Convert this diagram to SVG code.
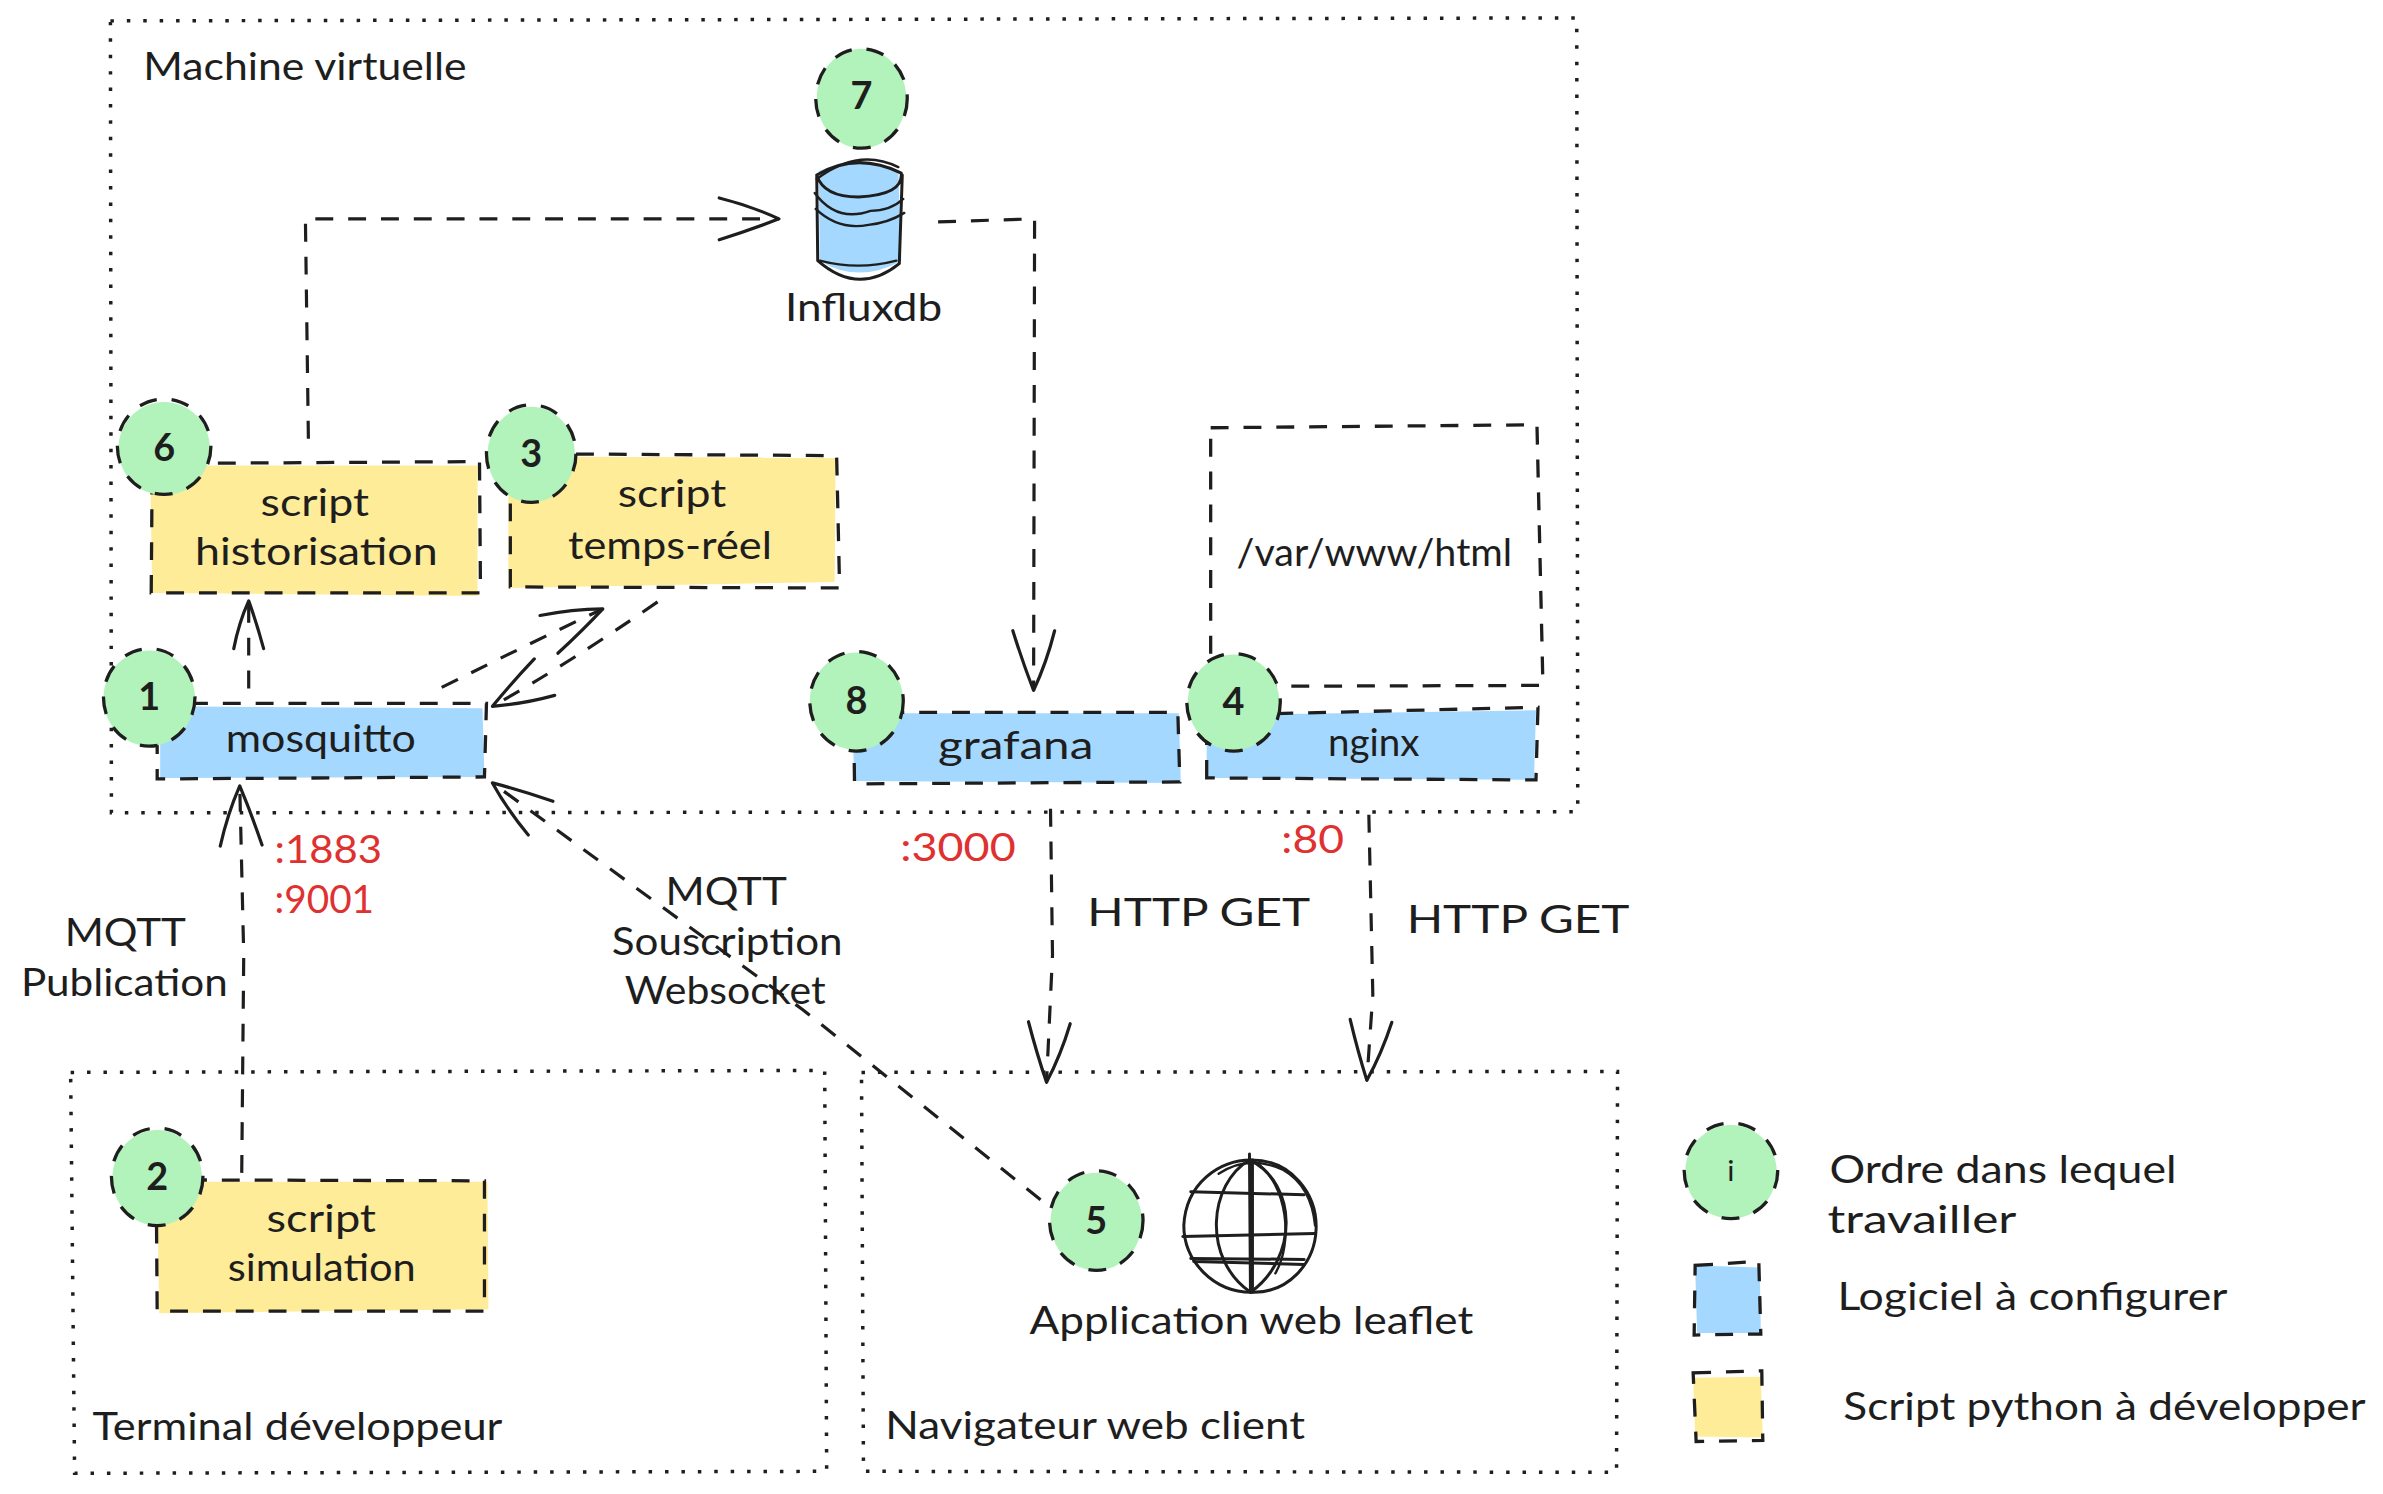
<svg xmlns="http://www.w3.org/2000/svg" width="2383" height="1494" viewBox="0 0 2383 1494">
<defs>
<marker id="head" markerUnits="userSpaceOnUse" markerWidth="80" markerHeight="60" refX="70" refY="30" orient="auto" overflow="visible">
<path d="M10 9 Q42 17 70 30 Q42 41 10 51" fill="none" stroke="#1e1e1e" stroke-width="3.2" stroke-linecap="round" stroke-linejoin="round"/>
</marker>
<marker id="head-narrow" markerUnits="userSpaceOnUse" markerWidth="80" markerHeight="60" refX="70" refY="30" orient="auto" overflow="visible">
<path d="M22 15 Q48 20 70 30 Q48 38 22 45" fill="none" stroke="#1e1e1e" stroke-width="3.2" stroke-linecap="round" stroke-linejoin="round"/>
</marker>
</defs>
<style>
.t{font-family:"Lato","Liberation Sans",sans-serif;font-size:38px;fill:#1e1e1e}
.n{font-family:"Lato","Liberation Sans",sans-serif;font-size:38px;font-weight:700;fill:#1e1e1e;text-anchor:middle}
.r{fill:#e03131}
.frame{fill:none;stroke:#1e1e1e;stroke-width:3.5;stroke-dasharray:3.5 13}
.dash{fill:none;stroke:#1e1e1e;stroke-width:3.3;stroke-dasharray:18 15}
.conn{fill:none;stroke:#1e1e1e;stroke-width:3.2;stroke-dasharray:18 15;marker-end:url(#head)}
.narrow{marker-end:url(#head-narrow)}
.line{fill:none;stroke:#1e1e1e;stroke-width:3;stroke-linecap:round;stroke-linejoin:round}
.thin{fill:none;stroke:#1e1e1e;stroke-width:2.4;stroke-linecap:round;stroke-linejoin:round}
.g{fill:#b2f2bb}.b{fill:#a5d8ff}.y{fill:#ffec99}
</style>
<rect width="2383" height="1494" fill="#ffffff"/>
<g id="diagram" transform="scale(0.9948)">

<g id="frame-machine"><path class="frame" d="M111 21 L1585 18 L1586 816 L112 817 Z"/><text class="t" x="144" y="80" textLength="325" lengthAdjust="spacingAndGlyphs">Machine virtuelle</text></g>
<g id="frame-terminal"><path class="frame" d="M71 1078 L829 1076 L831 1479 L75 1481 Z"/><text class="t" x="93" y="1448" textLength="412" lengthAdjust="spacingAndGlyphs">Terminal développeur</text></g>
<g id="frame-navigateur"><path class="frame" d="M866 1078 L1626 1077 L1625 1480 L868 1479 Z"/><text class="t" x="890" y="1447" textLength="422" lengthAdjust="spacingAndGlyphs">Navigateur web client</text></g>

<g id="connectors">
<path class="conn narrow" d="M250 692 L250 604"/>
<path class="conn" d="M444 691 Q530 648 606 612"/>
<path class="conn" d="M661 605 Q570 668 495 710"/>
<path class="conn" d="M310 441 L307 220 L783 220"/>
<path class="conn" d="M943 223 L1040 220 L1039 694"/>
<path class="conn" d="M243 1179 L245 960 L241 790"/>
<path class="conn" d="M1046 1206 L807 1015 L495 787"/>
<path class="conn" d="M1056 813 L1058 960 L1052 1088"/>
<path class="conn" d="M1376 819 L1380 1000 L1374 1086"/>
</g>

<g id="node-historisation"><path class="y" d="M151 468 L480 468 L480 599 L153 596 Z"/><path class="dash" d="M153 466 L482 464 L483 596 L152 596 Z"/>
<text class="t" x="262" y="519" textLength="109" lengthAdjust="spacingAndGlyphs">script</text><text class="t" x="196" y="568" textLength="244" lengthAdjust="spacingAndGlyphs">historisation</text></g>
<g id="node-tempsreel"><path class="y" d="M511 459 L840 460 L839 585 L511 591 Z"/><path class="dash" d="M513 456 L841 458 L844 591 L513 590 Z"/>
<text class="t" x="621" y="510" textLength="109" lengthAdjust="spacingAndGlyphs">script</text><text class="t" x="571" y="562" textLength="205" lengthAdjust="spacingAndGlyphs">temps-réel</text></g>
<g id="node-mosquitto"><path class="b" d="M161 710 L485 712 L487 781 L161 782 Z"/><path class="dash" d="M158 707 L489 707 L487 781 L158 783 Z"/>
<text class="t" x="227" y="756" textLength="191" lengthAdjust="spacingAndGlyphs">mosquitto</text></g>
<g id="node-influxdb">
<path class="b" d="M823 172 Q863 156 903 172 L906 262 Q863 286 824 262 Z"/>
<path class="line" d="M821 176 Q861 152 906 174 Q908 196 863 198 Q828 198 821 176 L822 262 Q863 298 904 265 L907 176"/>
<path class="thin" d="M819 194 Q841 224 875 212 Q895 212 908 200 M820 210 Q843 232 873 226 Q893 224 909 214 M821 180 Q863 148 903 168 M824 262 Q863 272 901 262"/>
<text class="t" x="789" y="323" textLength="158" lengthAdjust="spacingAndGlyphs">Influxdb</text></g>
<g id="node-grafana"><path class="b" d="M856 717 L1185 717 L1187 787 L859 785 Z"/><path class="dash" d="M858 716 L1184 716 L1186 786 L859 788 Z"/>
<text class="t" x="943" y="763" textLength="156" lengthAdjust="spacingAndGlyphs">grafana</text></g>
<g id="node-nginx"><path class="b" d="M1213 719 L1544 714 L1542 784 L1213 782 Z"/><path class="dash" d="M1213 782 L1213 719 L1546 711 L1544 784 Z"/>
<text class="t" x="1335" y="760" textLength="92" lengthAdjust="spacingAndGlyphs">nginx</text></g>
<g id="node-www"><path class="dash" d="M1217 430 L1545 427 L1551 689 L1217 690 Z"/>
<text class="t" x="1243" y="569" textLength="277" lengthAdjust="spacingAndGlyphs">/var/www/html</text></g>
<g id="node-simulation"><path class="y" d="M158 1188 L490 1188 L491 1316 L160 1320 Z"/><path class="dash" d="M157 1186 L487 1187 L487 1318 L158 1318 Z"/>
<text class="t" x="268" y="1238" textLength="110" lengthAdjust="spacingAndGlyphs">script</text><text class="t" x="229" y="1288" textLength="189" lengthAdjust="spacingAndGlyphs">simulation</text></g>
<g id="node-webapp">
<path class="line" d="M1190 1232 C1192 1190 1225 1166 1258 1166 C1298 1166 1324 1200 1323 1235 C1322 1270 1295 1300 1258 1299 C1220 1299 1190 1268 1190 1232 Z"/>
<path class="thin" d="M1225 1180 Q1255 1160 1290 1176 Q1318 1192 1322 1232"/>
<path class="line" d="M1256 1166 C1215 1190 1208 1265 1257 1299 C1305 1265 1305 1190 1256 1166"/>
<path class="thin" d="M1262 1168 C1295 1190 1300 1250 1282 1280"/>
<path class="line" d="M1256 1160 L1257 1299 M1259 1166 L1259 1299"/>
<path class="line" d="M1197 1198 L1311 1201 M1189 1243 L1322 1240 M1200 1268 L1311 1271 M1197 1265 L1311 1266"/>
<text class="t" x="1035" y="1341" textLength="446" lengthAdjust="spacingAndGlyphs">Application web leaflet</text></g>

<g id="badge-6"><ellipse class="g" cx="165" cy="451" rx="46" ry="47"/><ellipse class="dash" cx="165" cy="449" rx="47" ry="48"/><text class="n" x="165" y="463">6</text></g>
<g id="badge-3"><ellipse class="g" cx="534" cy="457" rx="44" ry="48"/><ellipse class="dash" cx="534" cy="456" rx="45" ry="49"/><text class="n" x="534" y="469">3</text></g>
<g id="badge-1"><ellipse class="g" cx="150" cy="702" rx="46" ry="48"/><ellipse class="dash" cx="150" cy="701" rx="46" ry="49"/><text class="n" x="150" y="714">1</text></g>
<g id="badge-7"><ellipse class="g" cx="866" cy="99" rx="45" ry="50"/><ellipse class="dash" cx="866" cy="99" rx="46" ry="50"/><text class="n" x="866" y="110">7</text></g>
<g id="badge-8"><ellipse class="g" cx="861" cy="705" rx="47" ry="49"/><ellipse class="dash" cx="861" cy="705" rx="47" ry="50"/><text class="n" x="861" y="718">8</text></g>
<g id="badge-4"><ellipse class="g" cx="1240" cy="706" rx="46" ry="48"/><ellipse class="dash" cx="1240" cy="706" rx="47" ry="49"/><text class="n" x="1240" y="719">4</text></g>
<g id="badge-2"><ellipse class="g" cx="158" cy="1184" rx="45" ry="48"/><ellipse class="dash" cx="158" cy="1183" rx="46" ry="49"/><text class="n" x="158" y="1196">2</text></g>
<g id="badge-5"><ellipse class="g" cx="1102" cy="1228" rx="46" ry="49"/><ellipse class="dash" cx="1102" cy="1227" rx="47" ry="50"/><text class="n" x="1102" y="1240">5</text></g>

<g id="labels">
<text class="t r" x="276" y="868" textLength="108" lengthAdjust="spacingAndGlyphs">:1883</text>
<text class="t r" x="276" y="918" textLength="100" lengthAdjust="spacingAndGlyphs">:9001</text>
<text class="t r" x="905" y="866" textLength="116" lengthAdjust="spacingAndGlyphs">:3000</text>
<text class="t r" x="1288" y="857" textLength="63" lengthAdjust="spacingAndGlyphs">:80</text>
<text class="t" x="65" y="951" textLength="122" lengthAdjust="spacingAndGlyphs">MQTT</text>
<text class="t" x="21" y="1001" textLength="208" lengthAdjust="spacingAndGlyphs">Publication</text>
<text class="t" x="669" y="910" textLength="122" lengthAdjust="spacingAndGlyphs">MQTT</text>
<text class="t" x="615" y="960" textLength="232" lengthAdjust="spacingAndGlyphs">Souscription</text>
<text class="t" x="628" y="1009" textLength="202" lengthAdjust="spacingAndGlyphs">Websocket</text>
<text class="t" x="1093" y="931" textLength="224" lengthAdjust="spacingAndGlyphs">HTTP GET</text>
<text class="t" x="1414" y="938" textLength="224" lengthAdjust="spacingAndGlyphs">HTTP GET</text>
</g>

<g id="legend-order"><ellipse class="g" cx="1740" cy="1178" rx="46" ry="47"/><ellipse class="dash" cx="1740" cy="1177" rx="47" ry="48"/><text class="n" x="1740" y="1187" style="font-weight:400;font-size:30px">i</text>
<text class="t" x="1839" y="1189" textLength="349" lengthAdjust="spacingAndGlyphs">Ordre dans lequel</text><text class="t" x="1837" y="1239" textLength="190" lengthAdjust="spacingAndGlyphs">travailler</text></g>
<g id="legend-software"><path class="b" d="M1704 1272 L1769 1274 L1770 1340 L1706 1340 Z"/><path class="dash" d="M1704 1272 L1768 1268 L1770 1341 L1703 1342 Z"/>
<text class="t" x="1847" y="1317" textLength="392" lengthAdjust="spacingAndGlyphs">Logiciel à configurer</text></g>
<g id="legend-script"><path class="y" d="M1702 1385 L1770 1384 L1772 1445 L1704 1444 Z"/><path class="dash" d="M1702 1380 L1771 1378 L1772 1448 L1705 1449 Z"/>
<text class="t" x="1853" y="1427" textLength="525" lengthAdjust="spacingAndGlyphs">Script python à développer</text></g>
</g>
</svg>
